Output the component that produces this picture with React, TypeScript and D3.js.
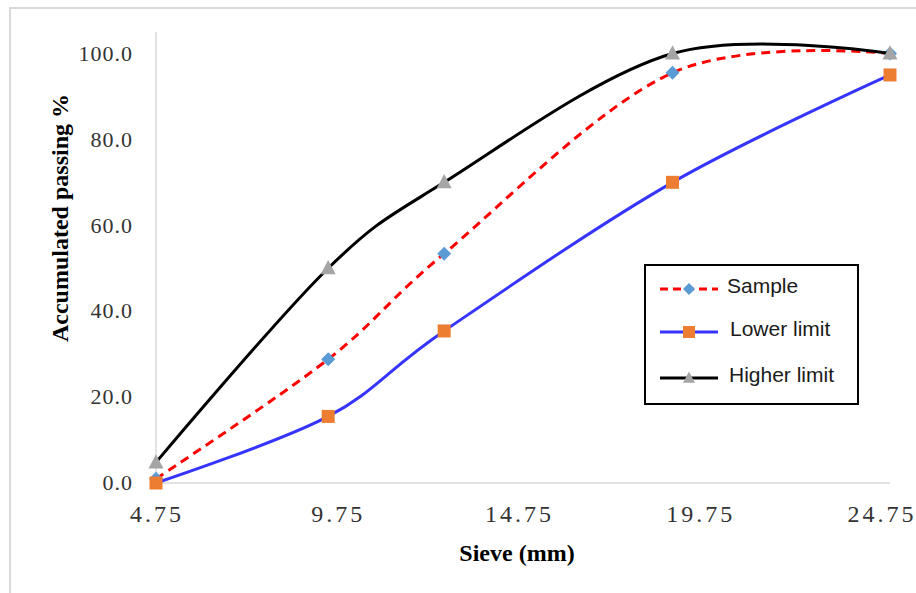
import React from "react";
import * as d3 from "d3";

const sieve = [4.75, 9.5, 12.7, 19, 25];
const sampleValues = [1.0, 28.8, 53.4, 95.5, 100.0];
const lowerValues = [0.0, 15.5, 35.4, 70.0, 95.0];
const higherValues = [4.8, 50.0, 70.0, 100.0, 100.0];
const xTicks = [4.75, 9.75, 14.75, 19.75, 24.75];
const yTicks = [0, 20, 40, 60, 80, 100];
const seriesNames = ["Sample", "Lower limit", "Higher limit"];

const W = 916;
const H = 593;

export default function App() {
  const x = d3.scaleLinear().domain([4.75, 25]).range([156, 890]);
  const y = d3.scaleLinear().domain([0, 105]).range([483, 32]);
  const line = d3
    .line<[number, number]>()
    .x((d) => x(d[0]))
    .y((d) => y(d[1]))
    .curve(d3.curveCatmullRom.alpha(0));

  const mk = (vals: number[]) => sieve.map((s, i) => [s, vals[i]] as [number, number]);
  const sample = mk(sampleValues);
  const lower = mk(lowerValues);
  const higher = mk(higherValues);

  const diamond = (cx: number, cy: number, key: string, r = 7) => (
    <path key={key} d={`M${cx},${cy - r}L${cx + r},${cy}L${cx},${cy + r}L${cx - r},${cy}Z`} fill="#5B9BD5" />
  );
  const square = (cx: number, cy: number, key: string, s = 13) => (
    <rect key={key} x={cx - s / 2} y={cy - s / 2} width={s} height={s} fill="#ED7D31" />
  );
  const triangle = (cx: number, cy: number, key: string, s = 15) => (
    <path key={key} d={`M${cx},${cy - s * 0.55}L${cx + s / 2},${cy + s * 0.4}L${cx - s / 2},${cy + s * 0.4}Z`} fill="#A5A5A5" />
  );

  const legendX = 645;
  const legendY = 265;
  const rows = [289, 332, 378];

  return (
    <svg width={W} height={H} style={{ position: "absolute", left: 0, top: 0, background: "#fff" }}>
      <rect x={10} y={8} width={W + 10} height={H + 10} fill="#fff" stroke="#D9D9D9" strokeWidth={2} />
      {/* axes */}
      <line x1={156} x2={156} y1={32} y2={483} stroke="#D9D9D9" strokeWidth={1.5} />
      <line x1={156} x2={890} y1={483} y2={483} stroke="#D9D9D9" strokeWidth={1.5} />
      {/* y ticks */}
      {yTicks.map((t) => (
        <text
          key={"y" + t}
          x={133}
          y={y(t)}
          dy="0.33em"
          textAnchor="end"
          fontFamily="'Liberation Serif', serif"
          fontSize={22}
          letterSpacing={1}
          fill="#333"
        >
          {t.toFixed(1)}
        </text>
      ))}
      {/* x ticks */}
      {xTicks.map((t) => (
        <text
          key={"x" + t}
          x={x(t) + 1}
          y={522}
          textAnchor="middle"
          fontFamily="'Liberation Serif', serif"
          fontSize={24}
          letterSpacing={3}
          fill="#333"
        >
          {t.toFixed(2)}
        </text>
      ))}
      {/* axis titles */}
      <text x={517} y={561} textAnchor="middle" fontFamily="'Liberation Serif', serif" fontWeight="bold" fontSize={24} fill="#000">
        Sieve (mm)
      </text>
      <text
        transform="translate(68,218) rotate(-90)"
        textAnchor="middle"
        fontFamily="'Liberation Serif', serif"
        fontWeight="bold"
        fontSize={24}
        fill="#000"
      >
        Accumulated passing %
      </text>
      {/* series */}
      <path d={line(sample) || ""} fill="none" stroke="#FF0000" strokeWidth={3} strokeDasharray="9,6" />
      {sample.map((d, i) => diamond(x(d[0]), y(d[1]), "s" + i))}
      <path d={line(lower) || ""} fill="none" stroke="#3535FF" strokeWidth={3} />
      {lower.map((d, i) => square(x(d[0]), y(d[1]), "l" + i))}
      <path d={line(higher) || ""} fill="none" stroke="#000" strokeWidth={3} />
      {higher.map((d, i) => triangle(x(d[0]), y(d[1]), "h" + i))}
      {/* legend */}
      <rect x={legendX} y={legendY} width={213} height={139} fill="#fff" stroke="#000" strokeWidth={2} />
      <line x1={660} x2={718} y1={rows[0]} y2={rows[0]} stroke="#FF0000" strokeWidth={3} strokeDasharray="8,5" />
      {diamond(689, rows[0], "ld", 6)}
      <line x1={660} x2={718} y1={rows[1]} y2={rows[1]} stroke="#3535FF" strokeWidth={3} />
      {square(689, rows[1], "ls", 12)}
      <line x1={660} x2={718} y1={rows[2]} y2={rows[2]} stroke="#000" strokeWidth={3} />
      {triangle(689, rows[2], "lt", 12)}
      {seriesNames.map((n, i) => (
        <text
          key={n}
          x={[727, 730, 729][i]}
          y={rows[i] - 3}
          dy="0.35em"
          fontFamily="'Liberation Sans', Arial, sans-serif"
          fontSize={21}
          fill="#1a1a1a"
        >
          {n}
        </text>
      ))}
    </svg>
  );
}
